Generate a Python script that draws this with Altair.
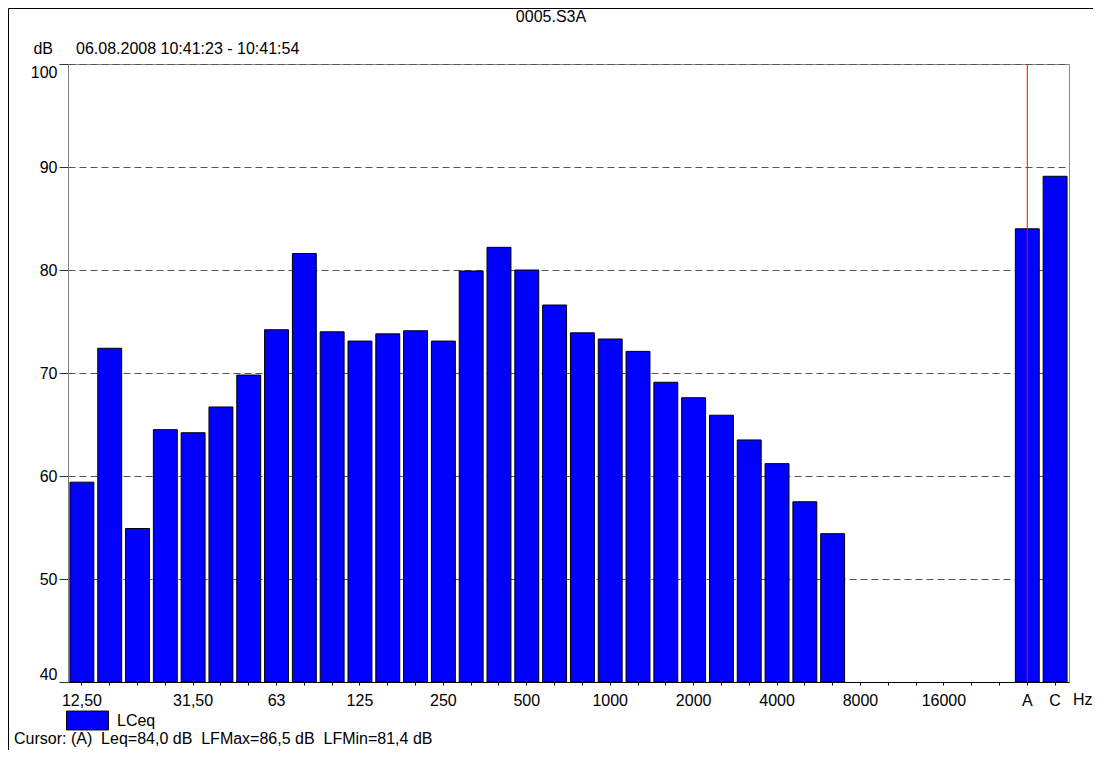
import altair as alt
import pandas as pd

bands = ["12,50", "16", "20", "25", "31,50", "40", "50", "63", "80", "100",
         "125", "160", "200", "250", "315", "400", "500", "630", "800", "1000",
         "1250", "1600", "2000", "2500", "3150", "4000", "5000", "6300", "8000",
         "10000", "12500", "16000", "20000", " ", "A", "C"]
values = [59.4, 72.4, 54.9, 64.5, 64.2, 66.7, 69.8, 74.2, 81.6, 74.0,
          73.1, 73.8, 74.1, 73.1, 79.9, 82.2, 80.0, 76.6, 73.9, 73.3,
          72.1, 69.1, 67.6, 65.9, 63.5, 61.2, 57.5, 54.4, None,
          None, None, None, None, None, 84.0, 89.1]
shown_labels = ["12,50", "31,50", "63", "125", "250", "500", "1000", "2000",
                "4000", "8000", "16000", "A", "C"]
y_ticks = [40, 50, 60, 70, 80, 90, 100]
series_name = "LCeq"
title_text = "0005.S3A"
unit_text = "dB"
date_text = "06.08.2008 10:41:23 - 10:41:54"
cursor_text = "Cursor: (A)\u00a0\u00a0Leq=84,0 dB\u00a0\u00a0LFMax=86,5 dB\u00a0\u00a0LFMin=81,4 dB"
cursor_band = "A"

FONT = "Liberation Sans"

df = pd.DataFrame({"band": bands, "value": values, "series": series_name})
df_bars = df.dropna(subset=["value"])

label_list = ",".join("'" + s + "'" for s in shown_labels)
label_expr = f"indexof([{label_list}], datum.value) >= 0 ? datum.value : ''"

xscale = alt.Scale(domain=bands, paddingInner=0.14, paddingOuter=0.07)
yscale = alt.Scale(domain=[40, 100], nice=False, zero=False)

bars = alt.Chart(df_bars).mark_bar(stroke="#000000", strokeWidth=1).encode(
    x=alt.X("band:N", sort=bands, scale=xscale,
            axis=alt.Axis(title=None, labelAngle=0, tickSize=3, labelPadding=7,
                          domainColor="#000000", tickColor="#000000",
                          labelExpr=label_expr, labelOverlap=False,
                          labelFont=FONT, labelFontSize=16, labelColor="#000000")),
    y=alt.Y("value:Q", scale=yscale,
            axis=alt.Axis(title=None, values=y_ticks, labelFlush=True, tickSize=9,
                          tickColor="#333333", domainColor="#808080",
                          grid=True, gridDash=[7, 4], gridColor="#555555",
                          labelPadding=2, labelFont=FONT, labelFontSize=16,
                          labelColor="#000000")),
    y2=alt.datum(40),
    color=alt.Color("series:N",
                    scale=alt.Scale(domain=[series_name], range=["#0000ff"]),
                    legend=alt.Legend(title=None, orient="none", legendX=-2, legendY=635,
                                      symbolType="M-1,-0.45L1,-0.45L1,0.45L-1,0.45Z",
                                      symbolSize=1764, symbolStrokeColor="#000000",
                                      symbolStrokeWidth=1, labelFont=FONT,
                                      labelFontSize=16, labelOffset=8,
                                      labelColor="#000000", padding=0)),
)

cursor = alt.Chart(pd.DataFrame({"band": [cursor_band]})).mark_rule(
    color="#ff0000", strokeWidth=1).encode(
    x=alt.X("band:N", sort=bands, scale=xscale),
    y=alt.datum(100),
    y2=alt.datum(40),
)

one = alt.Data(values=[{}])

def txt(text, x, y, align="left", baseline="middle"):
    return alt.Chart(one).mark_text(text=text, align=align, baseline=baseline,
                                    font=FONT, fontSize=16, color="#000000").encode(
        x=alt.value(x), y=alt.value(y))

title = txt(title_text, 483, -47, align="center")
unit = txt(unit_text, -15, -15, align="right")
date = txt(date_text, 8, -15)
hz = txt("Hz", 1005, 628, baseline="top")
cur = txt(cursor_text, -54, 680, baseline="alphabetic")

frame_left = alt.Chart(one).mark_rule(color="#000000", strokeWidth=1).encode(
    x=alt.value(-59.5), y=alt.value(-55.5), y2=alt.value(690))
frame_top = alt.Chart(one).mark_rule(color="#000000", strokeWidth=1).encode(
    x=alt.value(-59.5), x2=alt.value(1030), y=alt.value(-55.5))

chart = alt.layer(bars, cursor, title, unit, date, hz, cur, frame_left, frame_top).properties(
    width=1001, height=618,
    padding={"left": 60, "top": 56, "right": 24, "bottom": 68},
    autosize=alt.AutoSizeParams(type="none"),
).configure_view(stroke="#888888", strokeWidth=1)

chart.save("out.html", embed_options={"renderer": "svg", "actions": False})
